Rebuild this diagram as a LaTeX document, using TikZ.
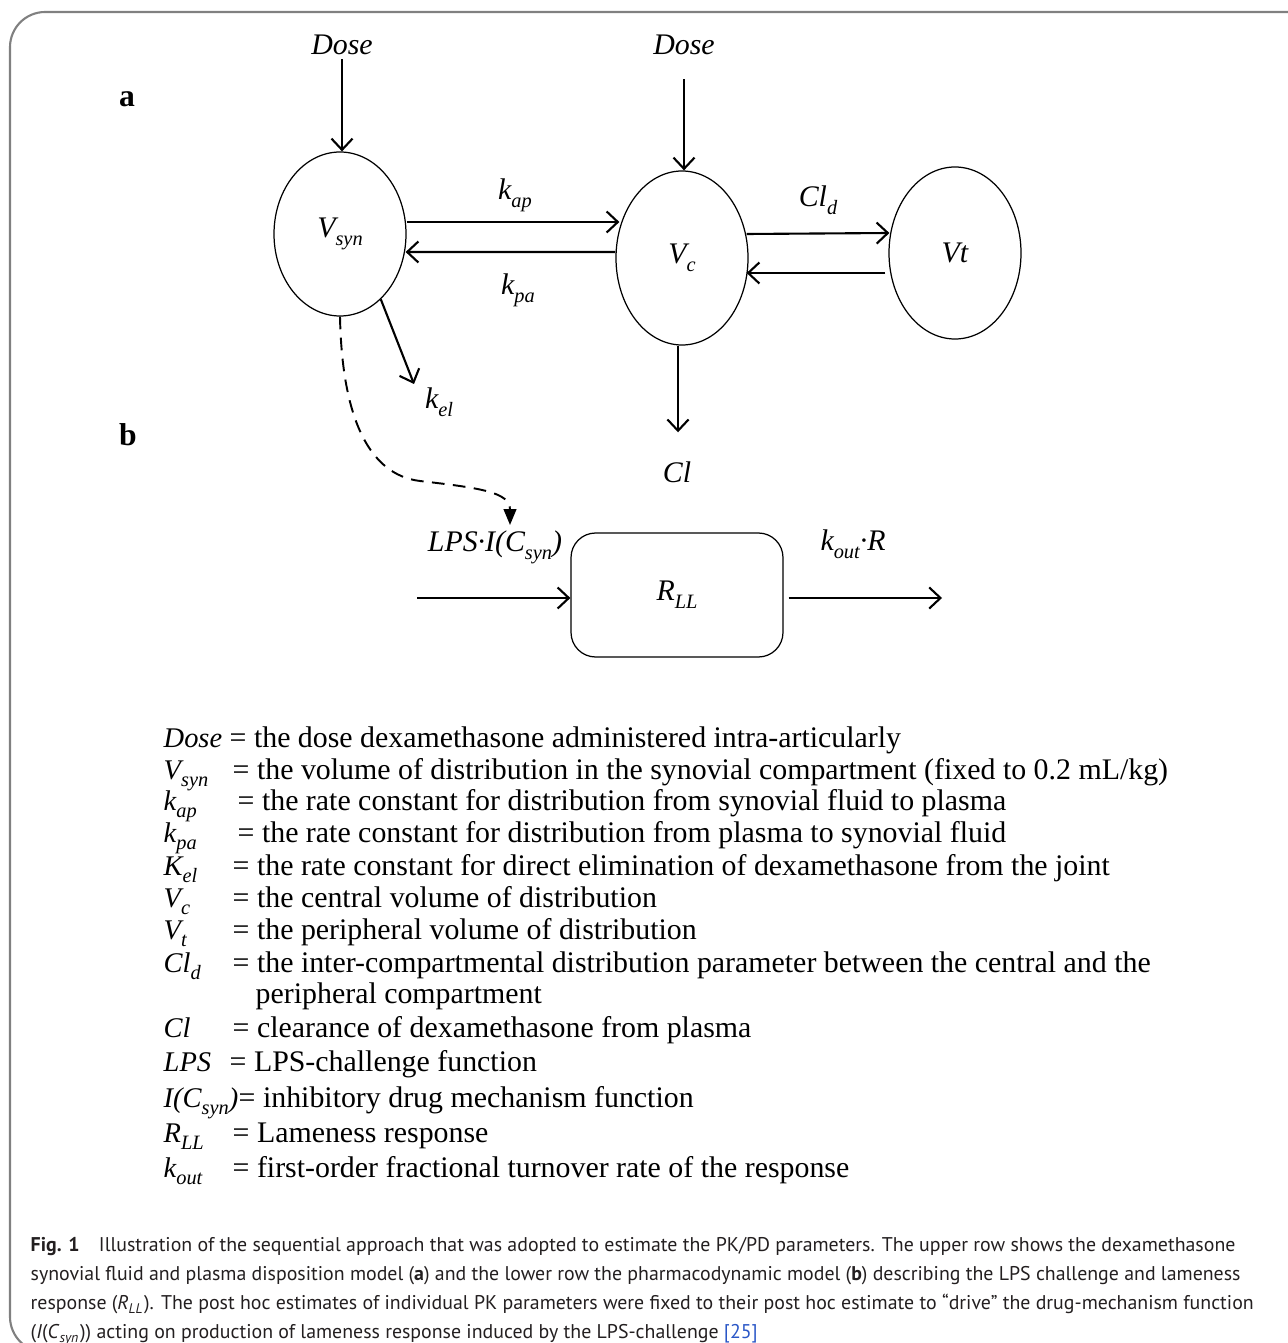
\documentclass[tikz,border=0pt]{standalone}
\usepackage{fontspec}
\setmainfont{Liberation Serif}
\newfontfamily\capfont{PT Sans}
\usetikzlibrary{shapes.geometric, arrows.meta, positioning, calc}
\definecolor{framegray}{HTML}{808080}
\definecolor{citeblue}{HTML}{2A56C6}
\definecolor{captext}{HTML}{231F20}
\newcommand{\lsub}[1]{\raisebox{-0.6ex}{\fontsize{5.8}{5.8}\selectfont #1}}

\tikzset{
  comp/.style={draw, ellipse, line width=0.35pt, minimum width=1.32cm, minimum height=1.64cm, inner sep=0pt, font=\itshape\fontsize{8.5}{10}\selectfont},
  rbox/.style={draw, rounded corners=7pt, line width=0.35pt, minimum width=2.12cm, minimum height=1.24cm, font=\itshape\fontsize{8.5}{10}\selectfont},
  flow/.style={-{Straight Barb[length=3.2pt,width=6pt]}, line width=0.6pt},
  dashflow/.style={-{Triangle[length=4.5pt,width=3.6pt]}, line width=0.55pt, dash pattern=on 3.6pt off 2.4pt},
  lbl/.style={font=\itshape\fontsize{8.5}{10}\selectfont, inner sep=1pt},
  panel/.style={font=\bfseries\fontsize{9}{10}\selectfont, inner sep=0pt},
  legsym/.style={anchor=base west, inner sep=0pt, font=\itshape\fontsize{8.1}{10}\selectfont},
  legtxt/.style={anchor=base west, inner sep=0pt, font=\fontsize{8.5}{10}\selectfont},
}

\begin{document}
\begin{tikzpicture}
  \useasboundingbox (0,0) rectangle (12.87,-13.43);

  % Frame (top and left edge only)
  \draw[framegray, line width=0.6pt, rounded corners=10pt] (13.2,-0.12) -- (0.10,-0.12) -- (0.10,-13.52) -- (1.0,-13.52);

  % Panel letters
  \node[panel] (pa) at (1.27,-0.99) {a};
  \node[panel] (pb) at (1.28,-4.35) {b};

  % (a) PK model
  \node[lbl] (dosesyn) at (3.42,-0.45) {Dose};
  \node[comp] (vsyn) at (3.40,-2.34) {V\lsub{syn}};
  \node[lbl] (dosec) at (6.84,-0.45) {Dose};
  \node[comp, minimum height=1.74cm] (vc) at (6.82,-2.58) {V\lsub{c}};
  \node[comp, minimum height=1.72cm] (vt) at (9.55,-2.53) {Vt};
  \node[lbl] (kap) at (5.15,-1.95) {k\lsub{ap}};
  \node[lbl] (kpa) at (5.18,-2.90) {k\lsub{pa}};
  \node[lbl] (cld) at (8.18,-2.00) {Cl\lsub{d}};
  \node[lbl] (kel) at (4.39,-4.02) {k\lsub{el}};
  \node[lbl] (cl) at (6.77,-4.72) {Cl};
  \coordinate (kelend) at (4.14,-3.84);

  \draw[flow] (dosesyn.south) -- (dosesyn.south |- vsyn.north);
  \draw[flow] ($(dosec.south)+(0,-0.2)$) -- (dosec.south |- vc.north);
  \draw[flow] ($(vsyn.east)+(0,0.12)$) -- ($(vc.west)+(0.04,0.36)$);
  \draw[flow] ($(vc.west)+(0,0.06)$) -- ($(vsyn.east)+(-0.01,-0.18)$);
  \draw[flow] ($(vc.east)+(-0.02,0.24)$) -- ($(vt.west)+(0.01,0.20)$);
  \draw[flow] ($(vt.west)+(-0.03,-0.20)$) -- ($(vc.east)+(-0.02,-0.15)$);
  \draw[flow] ($(vc.south)+(-0.04,0)$) -- ($(vc.south |- cl.north)+(-0.04,0.25)$);
  \draw[flow] (vsyn.-58) -- (kelend);

  % (b) PD model
  \node[rbox] (rll) at (6.77,-5.95) {\raisebox{-3pt}{R\lsub{LL}}};
  \node[lbl] (lpsi) at (4.95,-5.47) {LPS·I(C\lsub{syn})};
  \node[lbl] (koutr) at (8.53,-5.44) {k\lsub{out}·R};
  \coordinate (lpsin) at (4.17,-5.98);
  \coordinate (rllout) at (9.42,-5.98);
  \coordinate (dashend) at (5.10,-5.25);

  \draw[flow] (lpsin) -- (rll.west |- lpsin);
  \draw[flow] ($(rll.east |- rllout)+(0.05,0)$) -- (rllout);
  \draw[dashflow] (vsyn.south) .. controls (3.42,-4.2) and (3.70,-4.75) .. (4.20,-4.81)
    .. controls (4.80,-4.88) and (5.10,-4.92) .. (dashend);

  % Legend
  \foreach \ypos/\eqx/\sym/\desc [count=\r] in {
    7.47/2.29/{Dose}/{= the dose dexamethasone administered intra-articularly},
    7.79/2.32/{V\lsub{syn}}/{= the volume of distribution in the synovial compartment (fixed to 0.2 mL/kg)},
    8.10/2.37/{k\lsub{ap}}/{= the rate constant for distribution from synovial fluid to plasma},
    8.42/2.37/{k\lsub{pa}}/{= the rate constant for distribution from plasma to synovial fluid},
    8.75/2.32/{K\lsub{el}}/{= the rate constant for direct elimination of dexamethasone from the joint},
    9.07/2.32/{V\lsub{c}}/{= the central volume of distribution},
    9.39/2.32/{V\lsub{t}}/{= the peripheral volume of distribution},
    9.72/2.32/{Cl\lsub{d}}/{= the inter-compartmental distribution parameter between the central and the},
    10.37/2.32/{Cl}/{= clearance of dexamethasone from plasma},
    10.71/2.29/{LPS}/{= LPS-challenge function},
    11.07/2.38/{I(C\lsub{syn})}/{= inhibitory drug mechanism function},
    11.42/2.32/{R\lsub{LL}}/{= Lameness response},
    11.77/2.32/{k\lsub{out}}/{= first-order fractional turnover rate of the response}
  } {
    \node[legsym] (sym-\r) at (1.63,-\ypos) {\sym};
    \node[legtxt] (desc-\r) at (\eqx,-\ypos) {\desc};
  }
  \node[legtxt] (desc-cont) at (2.55,-10.03) {peripheral compartment};

  % Caption
  \node[anchor=north west, inner sep=0pt, align=left, text=captext,
        font=\capfont\fontsize{5.65}{8.25}\selectfont] (caption) at (0.30,-12.37)
    {\textbf{Fig. 1}\hspace{4pt} Illustration of the sequential approach that was adopted to estimate the PK/PD parameters. The upper row shows the dexamethasone\\
     synovial fluid and plasma disposition model (\textbf{a}) and the lower row the pharmacodynamic model (\textbf{b}) describing the LPS challenge and lameness\\
     response (\textit{R}\textsubscript{\textit{LL}}). The post hoc estimates of individual PK parameters were fixed to their post hoc estimate to “drive” the drug-mechanism function\\
     (\textit{I}(\textit{C}\textsubscript{\textit{syn}})) acting on production of lameness response induced by the LPS-challenge {\color{citeblue}[25]}};
\end{tikzpicture}
\end{document}
